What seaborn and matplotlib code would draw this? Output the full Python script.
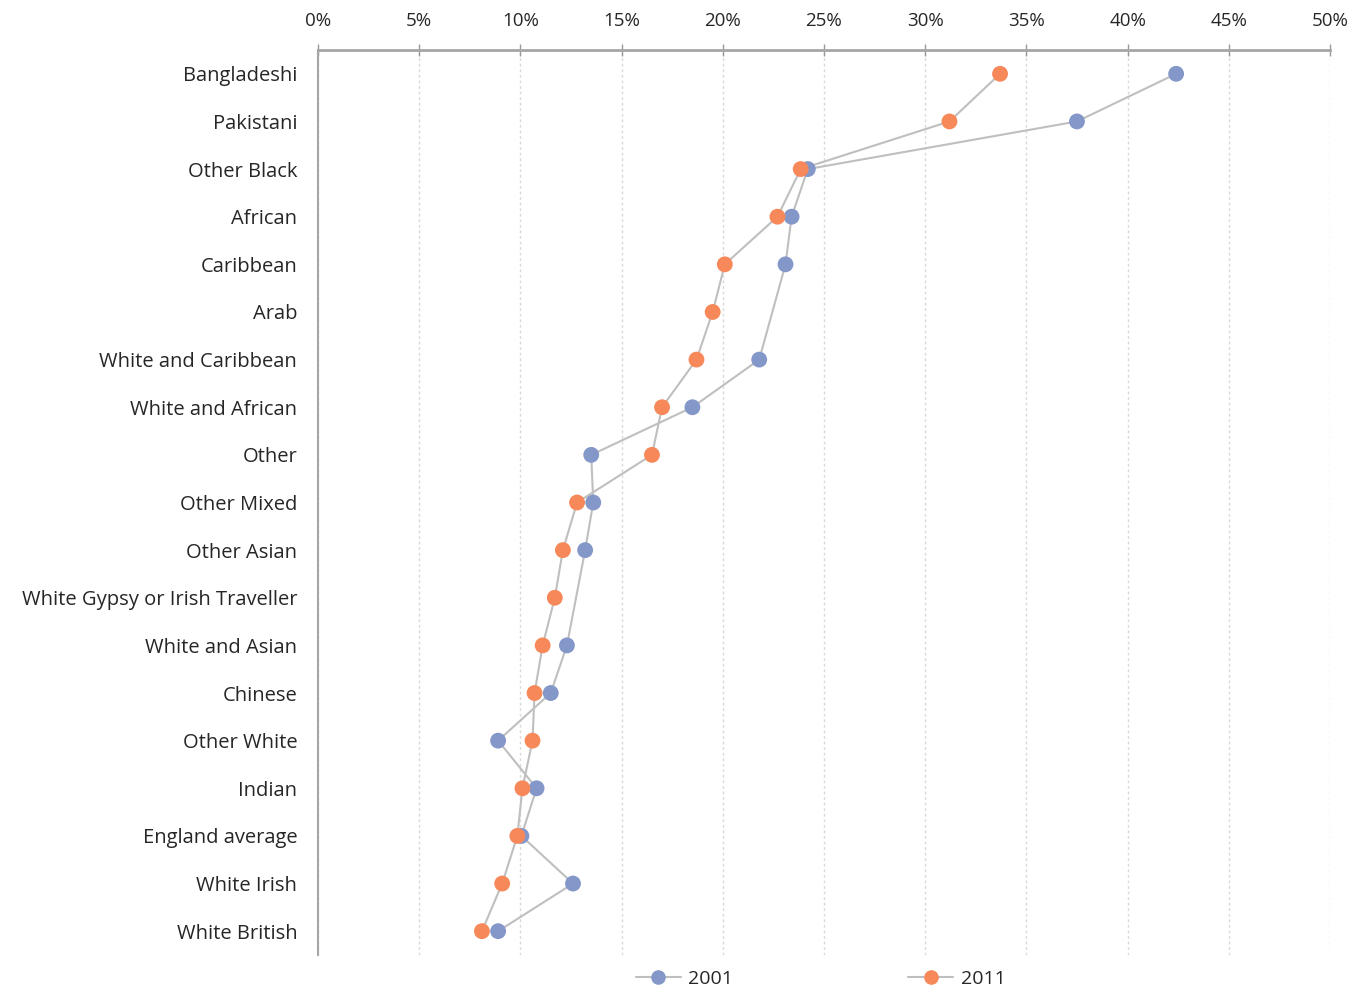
import numpy as np
import pandas as pd
import seaborn as sns
import matplotlib.pyplot as plt
from matplotlib.lines import Line2D
from matplotlib.ticker import FuncFormatter, MultipleLocator

# 数据
categories = ["Bangladeshi", "Pakistani", "Other Black", "African", "Caribbean",
              "Arab", "White and Caribbean", "White and African", "Other",
              "Other Mixed", "Other Asian", "White Gypsy or Irish Traveller",
              "White and Asian", "Chinese", "Other White", "Indian",
              "England average", "White Irish", "White British"]
v2001 = [42.4, 37.5, 24.2, 23.4, 23.1, np.nan, 21.8, 18.5, 13.5, 13.6, 13.2,
         np.nan, 12.3, 11.5, 8.9, 10.8, 10.05, 12.6, 8.9]
v2011 = [33.7, 31.2, 23.85, 22.7, 20.1, 19.5, 18.7, 17.0, 16.5, 12.8, 12.1,
         11.7, 11.1, 10.7, 10.6, 10.1, 9.85, 9.1, 8.1]
years = ["2001", "2011"]

# 颜色
line_gray = "#bfbfbf"
colors = {"2001": "#8497c9", "2011": "#f6885a"}
text_color = "#262626"

df = pd.DataFrame({"category": categories * 2,
                   "pos": list(range(len(categories))) * 2,
                   "value": v2001 + v2011,
                   "year": ["2001"] * len(categories) + ["2011"] * len(categories)})
df = df.dropna()

sns.set_style("white")
plt.rcParams['font.family'] = ['Open Sans', 'DejaVu Sans']

fig = plt.figure(figsize=(13.52, 9.88), dpi=100)
ax = fig.add_axes([0.2352, 0.0334, 0.7485, 0.916])

for yr in years:
    sub = df[df["year"] == yr]
    sns.lineplot(data=sub, x="value", y="pos", orient="y", sort=False,
                 color=line_gray, linewidth=1.5, ax=ax, legend=False)
    sns.scatterplot(data=sub, x="value", y="pos", color=colors[yr], s=130,
                    edgecolor="none", ax=ax, legend=False, zorder=3)

# 坐标轴
ax.set_xlim(0, 50)
ax.set_ylim(len(categories) - 0.5, -0.5)
ax.xaxis.set_major_locator(MultipleLocator(5))
ax.xaxis.set_major_formatter(FuncFormatter(lambda v, p: f"{v:.0f}%"))
ax.xaxis.tick_top()
ax.tick_params(axis="x", direction="inout", length=9, width=1, color="#999999",
               labelsize=13.5, labelcolor=text_color, pad=10)
ax.set_yticks(range(len(categories)))
ax.set_yticklabels(categories)
ax.set_yticks(np.arange(-0.5, len(categories), 1), minor=True)
ax.tick_params(axis="y", which="major", length=0, labelsize=14.5,
               labelcolor=text_color, pad=15)
ax.tick_params(axis="y", which="minor", direction="out", length=5,
               width=1, color="#999999")
ax.set_xlabel("")
ax.set_ylabel("")

ax.grid(axis="x", linestyle=(0, (2, 2)), color="#d9d9d9", linewidth=1)
ax.grid(axis="y", visible=False)
ax.set_axisbelow(True)

for side in ["right", "bottom"]:
    ax.spines[side].set_visible(False)
ax.spines["top"].set_color("#a6a6a6")
ax.spines["top"].set_linewidth(2)
ax.spines["left"].set_color("#a6a6a6")
ax.spines["left"].set_linewidth(1.5)

# 图例
handles = [Line2D([0], [0], color=line_gray, linewidth=1.5, marker="o",
                  markersize=10.5, markerfacecolor=colors[yr],
                  markeredgecolor="none") for yr in years]
fig.legend(handles, years, loc="lower center", bbox_to_anchor=(0.607, -0.018),
           ncol=2, frameon=False, fontsize=14, handlelength=2.3,
           columnspacing=9, handletextpad=0.4, labelcolor=text_color)

plt.savefig("out.png", dpi=100)
